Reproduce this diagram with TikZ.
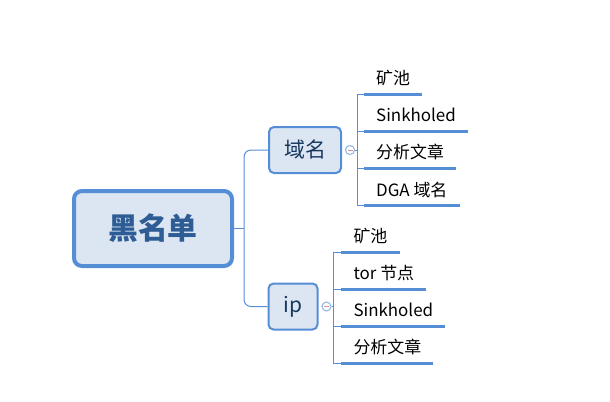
\documentclass[tikz,border=0pt]{standalone}
\usepackage{fontspec}
\setmainfont{Noto Sans CJK SC}
\usetikzlibrary{positioning}

\definecolor{mapblue}{HTML}{558ED5}
\definecolor{mapfill}{HTML}{DCE6F2}
\definecolor{roottext}{HTML}{2E5C94}
\definecolor{topictext}{HTML}{17375E}
\definecolor{knobline}{HTML}{8DB3E2}
\definecolor{knobminus}{HTML}{D99694}

\tikzset{
    topic/.style={rectangle, rounded corners=5bp, draw=mapblue, fill=mapfill, line width=2bp,
        text=topictext, font=\fontsize{21}{25}\selectfont, minimum height=46bp, inner sep=0pt},
    leaf/.style={rectangle, anchor=south west, inner xsep=12bp, inner ysep=6.5bp,
        text height=13bp, text depth=3bp, font=\fontsize{17}{20}\selectfont},
    underline/.style={draw=mapblue, line width=3bp},
    conn/.style={draw=mapblue, line width=1bp},
    knob/.style={circle, draw=knobline, fill=white, line width=1bp, minimum size=9bp, inner sep=0pt,
        path picture={\draw[knobminus, line width=1bp] ([xshift=-2.5bp]path picture bounding box.center)
            -- ([xshift=2.5bp]path picture bounding box.center);}}
}

\begin{document}
\begin{tikzpicture}[x=1bp, y=-1bp, node distance=152bp]
        \useasboundingbox (0,0) rectangle (610,401);

        % Root
        \node[rectangle, rounded corners=8bp, draw=mapblue, fill=mapfill, line width=4bp,
            minimum width=158bp, minimum height=75bp, text=roottext,
            font=\bfseries\fontsize{30}{34}\selectfont] (root) at (153,228.5) {黑名单};

        % Topics
        \node[topic, minimum width=72bp, right of=root, yshift=78.5bp] (domain) {域名};
        \node[topic, minimum width=49bp, right of=root, xshift=-12bp, yshift=-78bp] (ip) {ip};

        % Collapse knobs
        \node[knob, right=3bp of domain] (knobdomain) {};
        \node[knob, right=3bp of ip] (knobip) {};

        % Connections to topics
        \draw[conn] (root.east) -- ++(10,0) coordinate (hub);
        \draw[conn, rounded corners=7bp] (hub) |- (domain.west);
        \draw[conn, rounded corners=7bp] (hub) |- (ip.west);

        % Domain leaves
        \foreach \t [count=\i] in {矿池, Sinkholed, 分析文章, DGA 域名} {
            \node[leaf, xshift=59bp, yshift={56bp-37.3bp*(\i-1)}] (dom\i) at (domain.center) {\t};
            \draw[underline] (dom\i.south west) -- (dom\i.south east);
            \draw[conn] (knobdomain.east) -- ++(2,0) |- (dom\i.south west);
        }

        % IP leaves
        \foreach \t [count=\i] in {矿池, tor 节点, Sinkholed, 分析文章} {
            \node[leaf, xshift=48.3bp, yshift={54.2bp-37bp*(\i-1)}] (ipl\i) at (ip.center) {\t};
            \draw[underline] (ipl\i.south west) -- (ipl\i.south east);
            \draw[conn] (knobip.east) -- ++(2,0) |- (ipl\i.south west);
        }
    \end{tikzpicture}
\end{document}
